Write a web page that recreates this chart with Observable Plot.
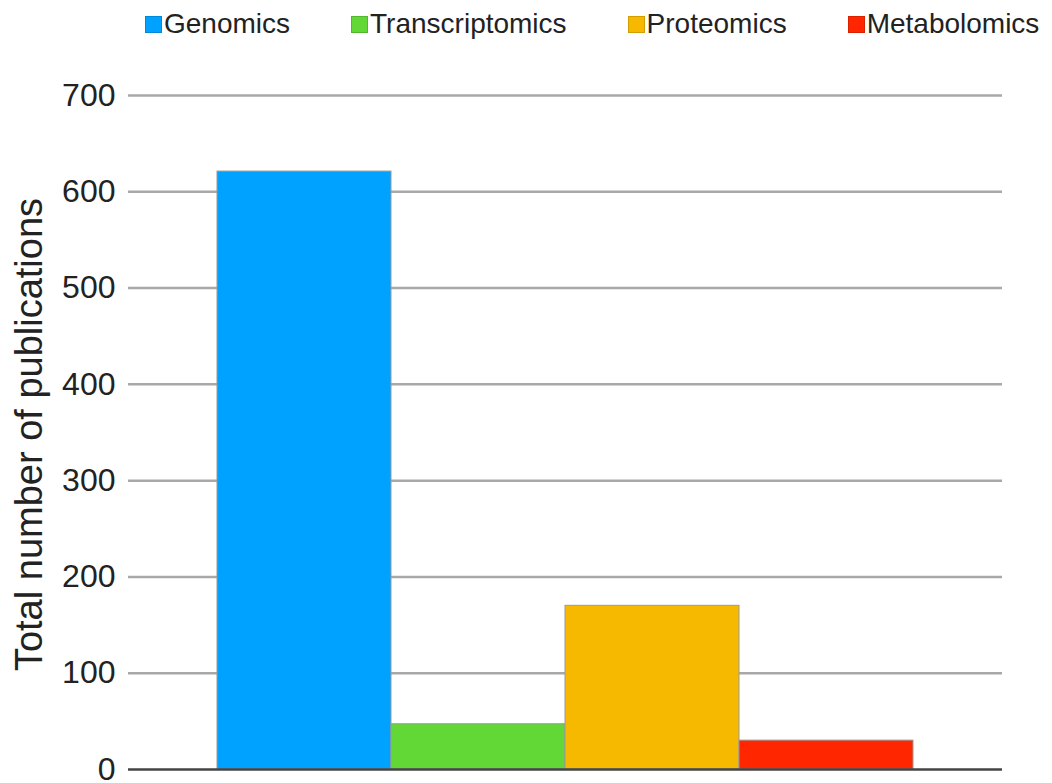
<!DOCTYPE html>
<html>
<head>
<meta charset="utf-8">
<script src="https://cdn.jsdelivr.net/npm/d3@7"></script>
<script src="https://cdn.jsdelivr.net/npm/@observablehq/plot@0.6"></script>
<style>
  html, body { margin: 0; padding: 0; background: #fff; }
  body { width: 1052px; height: 783px; overflow: hidden; font-family: "Liberation Sans", Arial, sans-serif; }
  #legend { height: 48px; display: flex; align-items: center; padding-left: 145px; box-sizing: border-box; }
  .item { display: flex; align-items: center; margin-right: 61px; font-size: 28px; color: #222; white-space: nowrap; }
  .item:last-child { margin-right: 0; }
  .sw { width: 17px; height: 17px; margin-right: 2px; box-sizing: border-box; border: 1px solid rgba(0,0,0,0.15); }
  #chart svg { display: block; overflow: visible; }
</style>
</head>
<body>
<div id="legend"></div>
<div id="chart"></div>
<script>
const categories = ["Genomics", "Transcriptomics", "Proteomics", "Metabolomics"];
const publications = [621, 47, 170, 30];
const colors = ["#00a2ff", "#61d836", "#f6b900", "#ff2600"];
const yTicks = [0, 100, 200, 300, 400, 500, 600, 700];
const yTitle = "Total number of publications";

const data = categories.map((c, i) => ({category: c, value: publications[i]}));

// legend
const legend = document.getElementById("legend");
categories.forEach((c, i) => {
  const it = document.createElement("div");
  it.className = "item";
  const sw = document.createElement("span");
  sw.className = "sw";
  sw.style.background = colors[i];
  const t = document.createElement("span");
  t.textContent = c;
  it.appendChild(sw);
  it.appendChild(t);
  legend.appendChild(it);
});

const chart = Plot.plot({
  width: 1052,
  height: 735,
  marginTop: 47,
  marginBottom: 14,
  marginLeft: 128,
  marginRight: 50,
  style: {fontFamily: "'Liberation Sans', Arial, sans-serif", color: "#222", background: "#fff"},
  x: {type: "band", domain: categories, paddingInner: 0, paddingOuter: 0.5, axis: null},
  y: {domain: [0, 700], ticks: yTicks},
  color: {domain: categories, range: colors},
  marks: [
    Plot.ruleY(yTicks.filter(d => d > 0), {stroke: "#a8a8a8", strokeWidth: 2.5}),
    Plot.barY(data, {x: "category", y: "value", fill: "category", stroke: "#9a9a9a", strokeWidth: 1}),
    Plot.ruleY([0], {stroke: "#444", strokeWidth: 2.5}),
    Plot.axisY({ticks: yTicks, tickSize: 0, tickPadding: 13, fontSize: 32, label: null, fill: "#222"}),
    Plot.text([yTitle], {frameAnchor: "left", rotate: -90, dx: -87, dy: 2, textAnchor: "middle", lineAnchor: "bottom", fontSize: 38, fill: "#222"})
  ]
});
document.getElementById("chart").appendChild(chart);
</script>
</body>
</html>
